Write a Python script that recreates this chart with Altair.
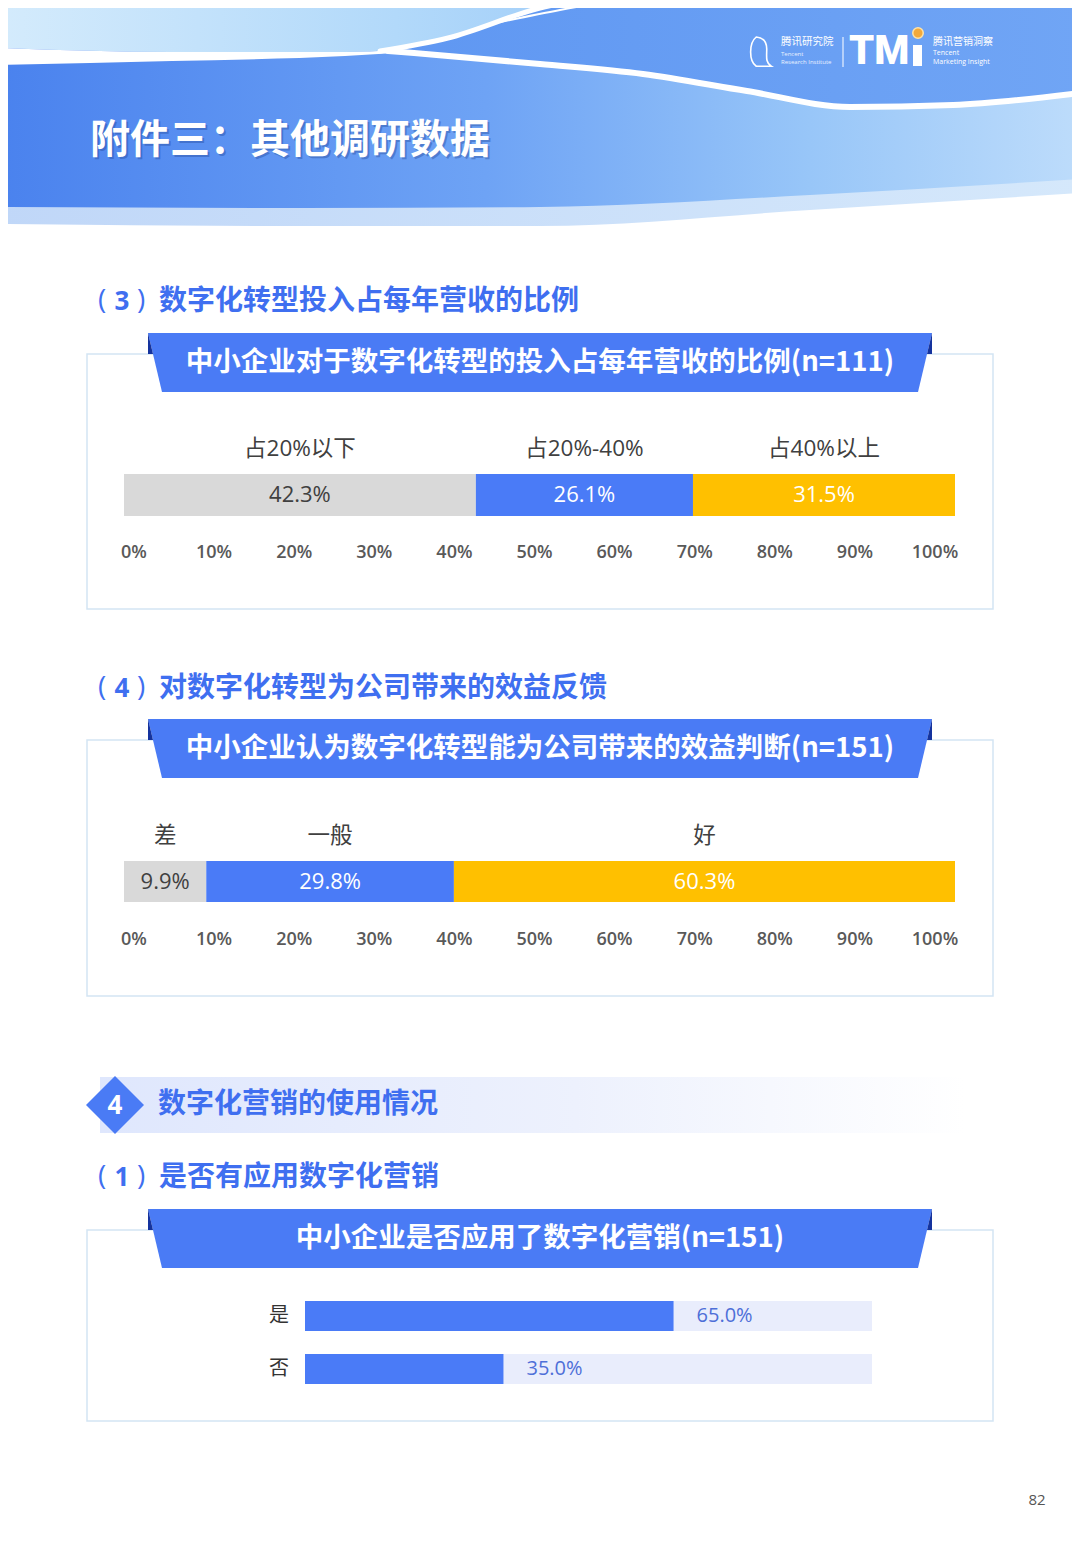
import altair as alt
import pandas as pd

OFF = 8
W, H = 1064, 1530
CJK = "Noto Sans CJK SC"
LAT = "Open Sans, Noto Sans CJK SC"

# ---------------- data ----------------
invest_cats = ["占20%以下", "占20%-40%", "占40%以上"]
invest_vals = [42.3, 26.1, 31.5]
benefit_cats = ["差", "一般", "好"]
benefit_vals = [9.9, 29.8, 60.3]
seg_colors = ["#d9d9d9", "#4a7bf7", "#ffc000"]
seg_text_colors = ["#404040", "#ffffff", "#ffffff"]
tick_vals = [0, 10, 20, 30, 40, 50, 60, 70, 80, 90, 100]
tick_labels = ["0%", "10%", "20%", "30%", "40%", "50%", "60%", "70%", "80%", "90%", "100%"]
use_cats = ["是", "否"]
use_vals = [65.0, 35.0]

BLUE = "#4a7bf5"
TITLE_BLUE = "#3f6ff0"
DUMMY = pd.DataFrame({"d": [0]})


def P(v):
    return v - OFF


def sc(lo, hi, dom):
    return alt.Scale(domain=dom, range=[P(lo), P(hi)], nice=False, zero=False)


XPIX = sc(0, 1080, [0, 1080])
YPIX = sc(0, 1560, [0, 1560])


def grad(stops, x2=1, y2=0):
    return alt.Gradient(gradient="linear",
                        stops=[alt.GradientStop(color=c, offset=o) for o, c in stops],
                        x1=0, y1=0, x2=x2, y2=y2)


def area_v(xs, ytop, ybot, fill, interp="monotone"):
    df = pd.DataFrame({"x": xs, "y": ytop, "y2": ybot})
    return alt.Chart(df).mark_area(fill=fill, interpolate=interp, orient="vertical").encode(
        x=alt.X("x:Q", scale=XPIX, axis=None),
        y=alt.Y("y:Q", scale=YPIX, axis=None, stack=None),
        y2="y2:Q")


def area_h(ys, xl, xr, fill):
    df = pd.DataFrame({"y": ys, "x": xl, "x2": xr})
    return alt.Chart(df).mark_area(fill=fill, interpolate="linear", orient="horizontal").encode(
        y=alt.Y("y:Q", scale=YPIX, axis=None),
        x=alt.X("x:Q", scale=XPIX, axis=None, stack=None),
        x2="x2:Q")


def line(xs, ys, width, color="#ffffff"):
    df = pd.DataFrame({"x": xs, "y": ys})
    return alt.Chart(df).mark_line(color=color, strokeWidth=width, interpolate="monotone",
                                   strokeCap="round").encode(
        x=alt.X("x:Q", scale=XPIX, axis=None),
        y=alt.Y("y:Q", scale=YPIX, axis=None))


def rect(x1, x2, y1, y2, fill, stroke=None, sw=0):
    kw = dict(fill=fill)
    if stroke:
        kw.update(stroke=stroke, strokeWidth=sw)
    return alt.Chart(DUMMY).mark_rect(**kw).encode(
        x=alt.value(P(x1)), x2=alt.value(P(x2)), y=alt.value(P(y1)), y2=alt.value(P(y2)))


def txt(s, x, y, size, color, weight="normal", align="center", font=CJK, opacity=1.0):
    return alt.Chart(DUMMY).mark_text(text=s, fontSize=size, color=color, fontWeight=weight,
                                      align=align, baseline="middle", font=font,
                                      opacity=opacity).encode(
        x=alt.value(P(x)), y=alt.value(P(y)))


layers = []

# ---------------- header ----------------
hx = [0, 300, 540, 810, 1080]
layers.append(area_v(hx, [0] * 5, [224, 226, 226, 210, 193],
                     grad([(0, "#c0d7f8"), (1, "#d5e8fb")])))
layers.append(area_v(hx, [0] * 5, [207, 208, 207, 195, 179],
                     grad([(0, "#4a82ee"), (0.45, "#6ea3f5"), (0.75, "#98c6f8"), (1, "#bddcfb")])))
layers.append(area_v([390, 540, 643, 747, 850, 953, 1080], [0] * 7,
                     [52, 64, 74, 91, 107, 105, 93],
                     grad([(0, "#5f97f2"), (1, "#70a5f5")])))
layers.append(area_v([0, 172, 345, 390, 448, 540, 600, 660], [0] * 8,
                     [48, 52, 52, 50, 38, 8, 0, 0],
                     grad([(0, "#d4ebfc"), (0.6, "#b2d9fa"), (1, "#9ccaf8")])))
layers.append(area_v([0, 172, 345, 395], [48, 52, 52, 50], [65, 61, 56, 53], "#ffffff"))
layers.append(line([388, 414, 540, 643, 747, 850, 953, 1080],
                   [51, 53, 64, 74, 91, 107, 105, 93], 6))
layers.append(line([380, 448, 540, 620], [51, 38, 8, -6], 5))
layers.append(line([500, 560, 640], [22, 10, -4], 2))

# title with soft shadow
layers.append(txt("附件三：其他调研数据", 92, 143, 40, "#1d3f8f", "bold", "left", opacity=0.35))
layers.append(txt("附件三：其他调研数据", 90, 141, 40, "#ffffff", "bold", "left"))

# logo
PENGUIN = ("M -0.45 -1 C -0.95 -0.6 -0.95 0.6 -0.45 0.95 L 0.55 0.95 "
           "C 0.15 0.7 0.25 0.3 0.25 -0.2 C 0.25 -0.7 0 -0.95 -0.45 -1 Z")
layers.append(alt.Chart(DUMMY).mark_point(shape=PENGUIN, size=900, filled=False,
                                          stroke="#ffffff", strokeWidth=1.6, opacity=1).encode(
    x=alt.value(P(763)), y=alt.value(P(52))))
layers.append(txt("腾讯研究院", 781, 42, 10.5, "#ffffff", "normal", "left"))
layers.append(txt("Tencent", 781, 54, 6, "#eaf2ff", "normal", "left", font=LAT))
layers.append(txt("Research Institute", 781, 62, 6, "#eaf2ff", "normal", "left", font=LAT))
layers.append(rect(842.5, 843.5, 37, 67, "#ffffff"))
layers.append(txt("TM", 849, 52, 40, "#ffffff", 900, "left", font="Roboto, Lato, Open Sans"))
layers.append(rect(913, 922, 45, 66, "#ffffff"))
layers.append(alt.Chart(DUMMY).mark_point(shape="circle", size=110, filled=True,
                                          fill="#f2a93b", stroke="#ffe3a6", strokeWidth=1.5,
                                          opacity=1).encode(
    x=alt.value(P(918)), y=alt.value(P(33))))
layers.append(txt("腾讯营销洞察", 933, 42, 10, "#ffffff", "normal", "left"))
layers.append(txt("Tencent", 933, 53, 7, "#ffffff", "normal", "left", font=LAT))
layers.append(txt("Marketing Insight", 933, 62, 7, "#ffffff", "normal", "left", font=LAT))


# ---------------- helpers for panels ----------------
def section_title(num, text, y):
    return [
        txt("(", 102, y - 1, 28, TITLE_BLUE, "normal", font=LAT),
        txt(num, 122, y, 26, TITLE_BLUE, "bold", font=LAT),
        txt(")", 141, y - 1, 28, TITLE_BLUE, "normal", font=LAT),
        txt(text, 159, y, 28, TITLE_BLUE, "bold", "left"),
    ]


def banner(top, text, f_bot):
    out = []
    out.append(rect(87, 993, top + 21, f_bot, "#ffffff", "#d3e5f4", 1.5))
    out.append(area_h([top, top + 59], [148, 162], [932, 918], BLUE))
    out.append(area_h([top, top + 21], [148, 148], [148, 153], "#15339e"))
    out.append(area_h([top, top + 21], [932, 927], [932, 932], "#15339e"))
    out.append(txt(text, 540, top + 30, 27.5, "#ffffff", "bold"))
    return out


def seg_panel(cats, vals, label_y, bar_top, bar_bot, tick_y):
    tot = sum(vals)
    rows, acc = [], 0.0
    for c, v, col, tc in zip(cats, vals, seg_colors, seg_text_colors):
        rows.append({"cat": c, "start": acc / tot, "end": (acc + v) / tot,
                     "mid": (acc + v / 2) / tot, "fill": col, "tcol": tc,
                     "label": f"{v:.1f}%"})
        acc += v
    df = pd.DataFrame(rows)
    xs = sc(124, 955, [0, 1])
    base = alt.Chart(df)
    bars = base.mark_rect().encode(
        x=alt.X("start:Q", scale=xs, axis=None), x2="end:Q",
        y=alt.value(P(bar_top)), y2=alt.value(P(bar_bot)),
        color=alt.Color("fill:N", scale=None, legend=None))
    vtxt = base.mark_text(fontSize=22, font=LAT, baseline="middle").encode(
        x=alt.X("mid:Q", scale=xs, axis=None),
        y=alt.value(P((bar_top + bar_bot) / 2)),
        text="label:N",
        color=alt.Color("tcol:N", scale=None, legend=None))
    ctxt = base.mark_text(fontSize=22.5, font=LAT, color="#404040", baseline="middle").encode(
        x=alt.X("mid:Q", scale=xs, axis=None),
        y=alt.value(P(label_y)),
        text="cat:N")
    ticks = alt.Chart(pd.DataFrame({"v": tick_vals, "lab": tick_labels})).mark_text(
        fontSize=18, fontWeight=600, color="#595959", font=LAT, baseline="middle").encode(
        x=alt.X("v:Q", scale=sc(134, 935, [0, 100]), axis=None),
        y=alt.value(P(tick_y)),
        text="lab:N")
    return [alt.layer(bars, vtxt, ctxt).resolve_scale(color="independent"), ticks]


# ---------------- section (3) ----------------
layers += section_title("3", "数字化转型投入占每年营收的比例", 302)
layers += banner(333, "中小企业对于数字化转型的投入占每年营收的比例(n=111)", 609)
layers += seg_panel(invest_cats, invest_vals, 449, 474, 516, 553)

# ---------------- section (4) ----------------
layers += section_title("4", "对数字化转型为公司带来的效益反馈", 689)
layers += banner(719, "中小企业认为数字化转型能为公司带来的效益判断(n=151)", 996)
layers += seg_panel(benefit_cats, benefit_vals, 836, 861, 902, 940)

# ---------------- chapter 4 header ----------------
layers.append(alt.Chart(DUMMY).mark_rect(
    fill=grad([(0, "#dfe7fd"), (0.55, "#edf1fd"), (1, "#ffffff")])).encode(
    x=alt.value(P(100)), x2=alt.value(P(965)), y=alt.value(P(1077)), y2=alt.value(P(1133))))
layers.append(area_h([1076, 1105, 1134], [115, 86, 115], [115, 144, 115], BLUE))
layers.append(txt("4", 115, 1106, 26, "#ffffff", "bold", font=LAT))
layers.append(txt("数字化营销的使用情况", 158, 1105, 28, TITLE_BLUE, "bold", "left"))

# ---------------- section (1) ----------------
layers += section_title("1", "是否有应用数字化营销", 1178)
layers += banner(1209, "中小企业是否应用了数字化营销(n=151)", 1421)

use_df = pd.DataFrame({"cat": use_cats, "val": use_vals, "zero": [0.0] * len(use_cats),
                       "full": [100.0] * len(use_cats),
                       "label": [f"{v:.1f}%" for v in use_vals]})
ux = sc(305, 872, [0, 100])
uy = alt.Scale(domain=use_cats, range=[P(1289.5), P(1395.5)], paddingInner=0.434,
               paddingOuter=0.217)
ubase = alt.Chart(use_df)
u_bg = ubase.mark_bar(color="#e9edfc").encode(
    x=alt.X("zero:Q", scale=ux, axis=None), x2="full:Q",
    y=alt.Y("cat:N", scale=uy, axis=None, sort=use_cats))
u_fg = ubase.mark_bar(color="#4a7bf7").encode(
    x=alt.X("zero:Q", scale=ux, axis=None), x2="val:Q",
    y=alt.Y("cat:N", scale=uy, axis=None, sort=use_cats))
u_lab = ubase.mark_text(align="left", dx=23, fontSize=20, font=LAT, color="#4e6fd8",
                        baseline="middle").encode(
    x=alt.X("val:Q", scale=ux, axis=None),
    y=alt.Y("cat:N", scale=uy, axis=None, sort=use_cats),
    text="label:N")
u_cat = ubase.mark_text(fontSize=20, font=CJK, color="#333333", baseline="middle").encode(
    x=alt.value(P(279)),
    y=alt.Y("cat:N", scale=uy, axis=None, sort=use_cats),
    text="cat:N")
layers.append(alt.layer(u_bg, u_fg, u_lab, u_cat))

# page number
layers.append(txt("82", 1037, 1500, 15, "#555555", "normal", font=LAT))

chart = alt.layer(*layers).resolve_scale(
    x="independent", y="independent", color="independent"
).properties(
    width=W, height=H, padding=0, background="#ffffff",
    autosize=alt.AutoSizeParams(type="none")
).configure_view(stroke=None)

chart.save("out.html", embed_options={"renderer": "svg", "actions": False})
